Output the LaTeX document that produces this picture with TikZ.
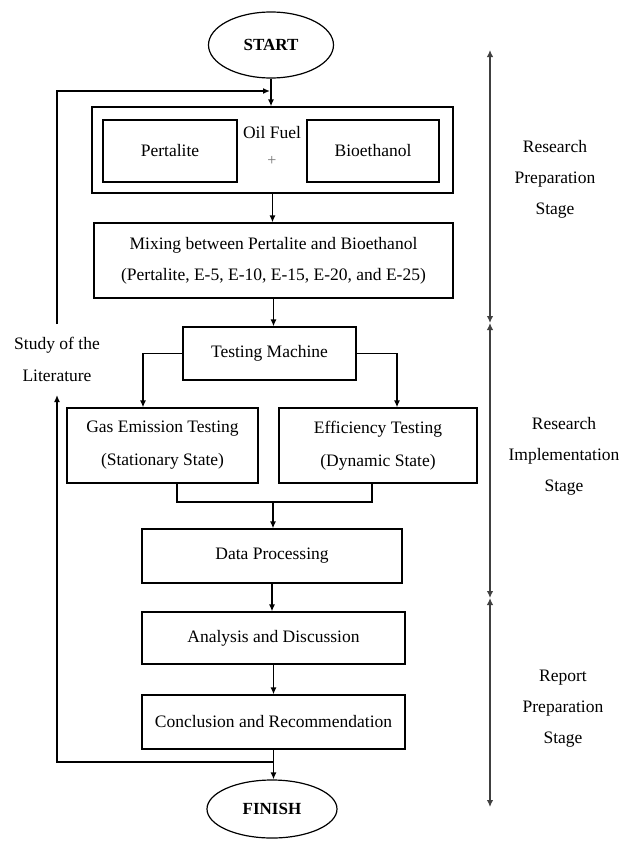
\documentclass[tikz,border=0pt]{standalone}
\usepackage{fontspec}
\setmainfont{Liberation Serif}
\usetikzlibrary{arrows.meta,shapes.geometric}
\begin{document}
\begin{tikzpicture}[x=1pt,y=-1pt,
  every node/.style={font=\fontsize{17.5}{31}\selectfont, inner sep=0pt, align=center},
  box/.style={draw, line width=1.3pt, rectangle},
  oval/.style={draw, line width=1.2pt, ellipse, font=\bfseries\fontsize{17}{20}\selectfont},
  arr/.style={line width=1.3pt, -{Latex[length=7pt,width=6pt]}},
  ln/.style={line width=1.3pt},
  stagearr/.style={line width=1.8pt, black!75, {Latex[length=7pt,width=6.5pt]}-{Latex[length=7pt,width=6.5pt]}}
]
\useasboundingbox[fill=white] (0,0) rectangle (631,841);

% main flow
\node[oval, minimum width=125pt, minimum height=66pt] (start) at (271,45) {START};
\node[box, minimum width=361pt, minimum height=86pt] (outer) at (272.5,150) {};
\node[box, minimum width=134pt, minimum height=62pt] (pert) at (170,151) {Pertalite};
\node[box, minimum width=132pt, minimum height=62pt] (bio) at (373,151) {Bioethanol};
\node (oil) at (272,133) {Oil Fuel};
\node[text=black!55, font=\fontsize{16}{18}\selectfont] (plus) at (272,161) {+};
\node[box, minimum width=359pt, minimum height=75pt] (mix) at (273.5,260.5)
  {Mixing between Pertalite and Bioethanol\\(Pertalite, E-5, E-10, E-15, E-20, and E-25)};
\node[box, minimum width=173pt, minimum height=53pt] (test) at (269.5,353.5) {Testing Machine};
\node[box, minimum width=191pt, minimum height=75pt, font=\fontsize{17.5}{33}\selectfont] (gas) at (162.5,445.5)
  {Gas Emission Testing\\(Stationary State)};
\node[box, minimum width=198pt, minimum height=75pt, font=\fontsize{17.5}{33}\selectfont] (eff) at (378,445.5)
  {Efficiency Testing\\(Dynamic State)};
\node[box, minimum width=260pt, minimum height=54pt] (data) at (272,556) {Data Processing};
\node[box, minimum width=263pt, minimum height=52pt] (anal) at (273.5,638) {Analysis and Discussion};
\node[box, minimum width=263pt, minimum height=54pt] (concl) at (273.5,722) {Conclusion and Recommendation};
\node[oval, minimum width=130pt, minimum height=58pt] (finish) at (272,809) {FINISH};

% side labels
\node[font=\fontsize{17.5}{32}\selectfont] (lit) at (57,359) {Study of the\\Literature};
\node (st1) at (555,179) {Research\\Preparation\\Stage};
\node (st2) at (564,456) {Research\\Implementation\\Stage};
\node (st3) at (563,709) {Report\\Preparation\\Stage};

% helper coordinates
\coordinate (merge) at (273,502);
\coordinate (fbj) at (273.5,762);
\coordinate (litin) at (57,395);
\coordinate (litout) at (57,324);
\coordinate (fbin) at (270,91);
\coordinate (r0) at (490,50);
\coordinate (r1) at (490,323);
\coordinate (r2) at (490,598);
\coordinate (r3) at (490,807);

% connectors
\draw[arr] (start.south) -- (start.south |- outer.north);
\draw[arr] (outer.south) -- (outer.south |- mix.north);
\draw[arr] (mix.south) -- (mix.south |- test.north);
\draw[arr] (test.west) -| ([xshift=-19.5pt]gas.north);
\draw[arr] (test.east) -| ([xshift=19pt]eff.north);
\draw[ln] ([xshift=14.5pt]gas.south) |- (merge) -| ([xshift=-6pt]eff.south);
\draw[arr] (merge) -- (merge |- data.north);
\draw[arr] (data.south) -- (data.south |- anal.north);
\draw[arr] (anal.south) -- (anal.south |- concl.north);
\draw[arr] (concl.south) -- (concl.south |- finish.north);
\draw[arr] (fbj) -| (litin);
\draw[arr] (litout) |- (fbin);

% stage arrows
\draw[stagearr] (r0) -- (r1);
\draw[stagearr] (r1) -- (r2);
\draw[stagearr] (r2) -- (r3);
\end{tikzpicture}
\end{document}
